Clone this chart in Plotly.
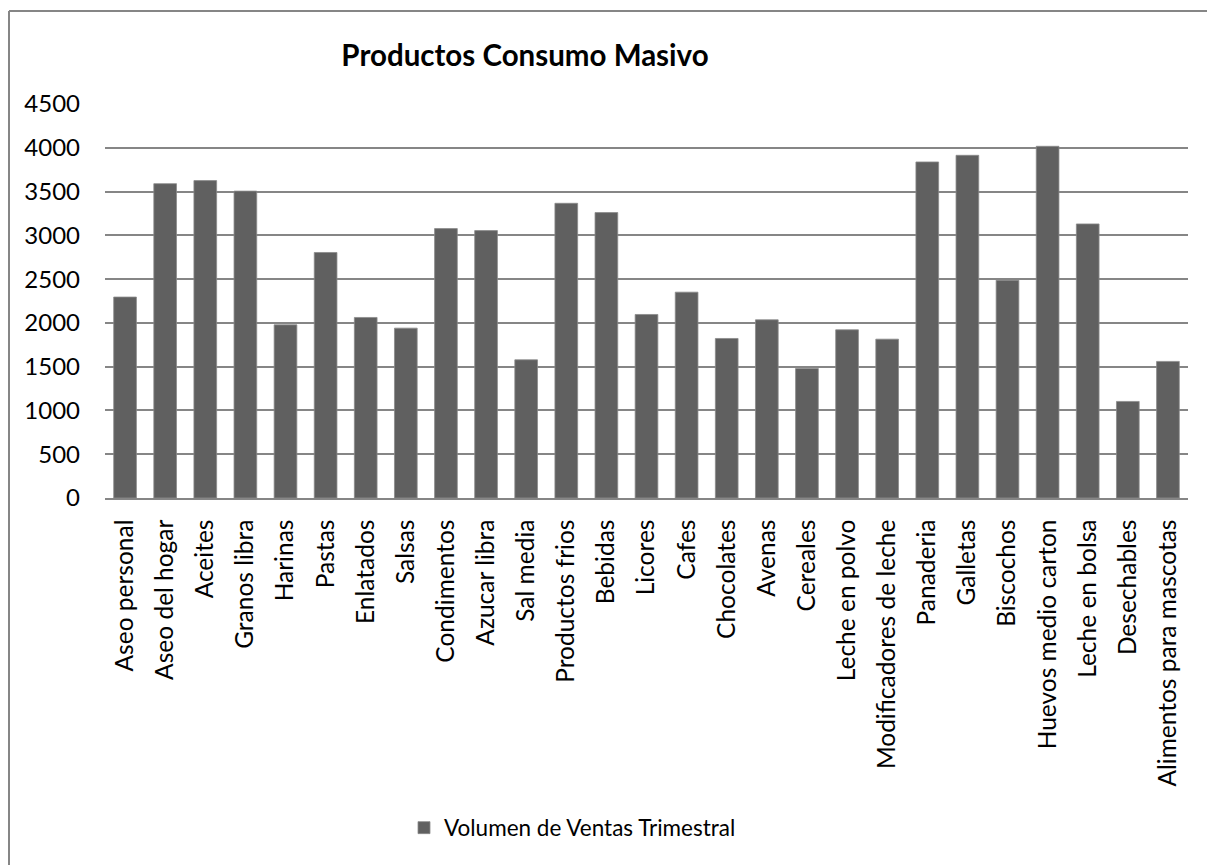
import plotly.graph_objects as go

categories = ["Aseo personal", "Aseo del hogar", "Aceites", "Granos libra", "Harinas",
              "Pastas", "Enlatados", "Salsas", "Condimentos", "Azucar libra", "Sal media",
              "Productos frios", "Bebidas", "Licores", "Cafes", "Chocolates", "Avenas",
              "Cereales", "Leche en polvo", "Modificadores de leche", "Panaderia",
              "Galletas", "Biscochos", "Huevos medio carton", "Leche en bolsa",
              "Desechables", "Alimentos para mascotas"]
ventas = [2295, 3590, 3625, 3505, 1978, 2804, 2062, 1940, 3077, 3054, 1578,
          3366, 3260, 2096, 2351, 1822, 2035, 1480, 1921, 1814, 3838,
          3914, 2488, 4017, 3130, 1103, 1560]
y_ticks = [0, 500, 1000, 1500, 2000, 2500, 3000, 3500, 4000, 4500]

FONT = "Lato"
W, H = 1207, 865
L, R, T, B = 105, 19, 104, 367
pw, ph = W - L - R, H - T - B

fig = go.Figure()
fig.add_trace(go.Bar(
    x=categories, y=ventas, name="Volumen de Ventas Trimestral",
    marker=dict(color="#606060", line=dict(color="#8a8a8a", width=0.8)),
))

fig.update_layout(
    width=W, height=H,
    margin=dict(l=L, r=R, t=T, b=B, pad=0),
    paper_bgcolor="white", plot_bgcolor="white",
    bargap=0.434,
    font=dict(family=FONT, size=24, color="black"),
    title=dict(text="<b>Productos Consumo Masivo</b>",
               font=dict(family=FONT, size=29.5, color="black"),
               xref="paper", x=(525 - L) / pw, xanchor="center",
               yref="container", y=1 - 56 / H, yanchor="middle"),
    showlegend=True,
    legend=dict(orientation="h", xref="paper", yref="paper",
                x=(404 - L) / pw, xanchor="left",
                y=-(828 - (T + ph)) / ph, yanchor="middle",
                font=dict(family=FONT, size=22.5, color="black"),
                bgcolor="rgba(0,0,0,0)"),
    xaxis=dict(tickangle=-90, showgrid=False, showline=True, linecolor="#868686",
               linewidth=1.5, ticks="", tickfont=dict(family=FONT, size=24.5, color="black"),
               ticklabelstandoff=10),
    yaxis=dict(range=[0, 4500], tickvals=y_ticks, showgrid=True, gridcolor="#868686",
               gridwidth=1.5, zeroline=False, showline=False, ticks="",
               tickfont=dict(family=FONT, size=24, color="black"),
               ticklabelstandoff=24),
)

x_left = (9 - L) / pw
y_top = (T + ph - 11) / ph
fig.add_shape(type="line", xref="paper", yref="paper",
              x0=x_left, x1=(W + 200 - L) / pw, y0=y_top, y1=y_top,
              line=dict(color="#868686", width=2), layer="below")
fig.add_shape(type="line", xref="paper", yref="paper",
              x0=x_left, x1=x_left, y0=y_top, y1=-(H + 200 - (T + ph)) / ph,
              line=dict(color="#868686", width=2), layer="below")

fig.write_html("out.html")
